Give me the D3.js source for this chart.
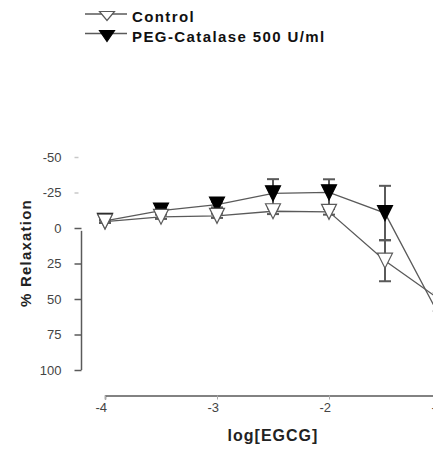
<!DOCTYPE html>
<html>
<head>
<meta charset="utf-8">
<script src="https://d3js.org/d3.v7.min.js"></script>
<style>
    body { margin: 0; background: #fff; }
    svg { display: block; font-family: "Liberation Sans", Arial, Helvetica, sans-serif; }
</style>
</head>
<body>
<svg width="433" height="453"></svg>
<script>
// log concentration of EGCG
var logConc = [-4, -3.5, -3, -2.5, -2, -1.5, -1];

// % relaxation (negative = contraction)
var controlMean = [-4.5, -7.9, -8.6, -11.8, -11.4, 23, 51];
var controlSem = [1, 1.5, 1.5, 2, 2, 14.5, 12];
var pegMean = [-5, -12.3, -16.5, -24.4, -25.1, -10.5, 64];
var pegSem = [1, 1.5, 2, 10, 9.2, 19.2, 10];

var seriesNames = ['Control', 'PEG-Catalase 500 U/ml'];
var yTicks = [-50, -25, 0, 25, 50, 75, 100];
var xTicks = [-4, -3, -2, -1];

var svg = d3.select('svg'),
    width = +svg.attr('width'),
    height = +svg.attr('height');

var grey = '#5a5a5a';

//Set scales
var xScale = d3.scaleLinear()
    .domain([-4, -1])
    .range([105, 441]);

var yScale = d3.scaleLinear()
    .domain([-50, 100])
    .range([157, 370]);

var axisX = 81.5;
var axisY = 395.5;

// build the series rows
var makeRows = (mean, sem) => logConc.map((c, i) => ({x: c, y: mean[i], e: sem[i]}));
var series = [
    {name: seriesNames[1], rows: makeRows(pegMean, pegSem), fill: '#000'},
    {name: seriesNames[0], rows: makeRows(controlMean, controlSem), fill: '#fff'}
];

//Y axis (the line only covers 0..100, upper ticks are faint in the original)
var yAxis = d3.axisLeft(yScale)
    .tickValues(yTicks)
    .tickSize(7)
    .tickPadding(13)
    .tickFormat(d => String(d));

var gy = svg.append('g')
    .attr('transform', `translate(${axisX},0)`)
    .call(yAxis);

gy.select('.domain').remove();
gy.append('line')
    .attr('x1', 0).attr('x2', 0)
    .attr('y1', yScale(2)).attr('y2', yScale(100))
    .attr('stroke', grey)
    .attr('stroke-width', 1.5);
gy.selectAll('.tick line')
    .attr('stroke', d => d < 0 ? '#c8c8c8' : grey)
    .attr('stroke-width', 1.5)
    .attr('x1', d => d < 0 ? -3 : 0);
gy.selectAll('.tick text')
    .attr('fill', '#444')
    .attr('font-size', 13)
    .attr('dy', '0.34em');

//X axis
var xAxis = d3.axisBottom(xScale)
    .tickValues(xTicks)
    .tickSize(4)
    .tickPadding(3)
    .tickFormat(d => String(d));

var gx = svg.append('g')
    .attr('transform', `translate(0,${axisY})`)
    .call(xAxis);

gx.select('.domain')
    .attr('stroke', grey)
    .attr('stroke-width', 1.5);
gx.selectAll('.tick line')
    .attr('stroke', '#aaa');
gx.selectAll('.tick text')
    .attr('fill', '#444')
    .attr('font-size', 13)
    .attr('text-anchor', 'end')
    .attr('dx', 1.5);

//Axis titles
svg.append('text')
    .attr('x', 273)
    .attr('y', 441)
    .attr('text-anchor', 'middle')
    .attr('font-size', 16)
    .attr('font-weight', 'bold')
    .attr('letter-spacing', 1)
    .attr('fill', '#222')
    .text('log[EGCG]');

svg.append('text')
    .attr('transform', 'translate(31,253) rotate(-90)')
    .attr('text-anchor', 'middle')
    .attr('font-size', 15)
    .attr('font-weight', 'bold')
    .attr('letter-spacing', 1.2)
    .attr('fill', '#222')
    .text('% Relaxation');

//Lines
var lineGenerator = d3.line()
    .x(d => xScale(d.x))
    .y(d => yScale(d.y));

series.forEach(s => {
    svg.append('path')
        .attr('d', lineGenerator(s.rows))
        .attr('fill', 'none')
        .attr('stroke', grey)
        .attr('stroke-width', 1.3);
});

// down triangle, box centred on the point
var triangle = (w, h) => `M${-w / 2},${-h / 2}L${w / 2},${-h / 2}L0,${h / 2}Z`;

//Error bars and markers
series.forEach(s => {
    var g = svg.append('g');
    var eb = g.selectAll('.err')
        .data(s.rows)
        .enter().append('g')
        .attr('stroke', grey)
        .attr('stroke-width', 2);
    eb.append('line')
        .attr('x1', d => xScale(d.x)).attr('x2', d => xScale(d.x))
        .attr('y1', d => yScale(d.y - d.e)).attr('y2', d => yScale(d.y + d.e));
    eb.append('line')
        .attr('x1', d => xScale(d.x) - 6).attr('x2', d => xScale(d.x) + 6)
        .attr('y1', d => yScale(d.y - d.e)).attr('y2', d => yScale(d.y - d.e));
    eb.append('line')
        .attr('x1', d => xScale(d.x) - 6).attr('x2', d => xScale(d.x) + 6)
        .attr('y1', d => yScale(d.y + d.e)).attr('y2', d => yScale(d.y + d.e));

    g.selectAll('.mark')
        .data(s.rows)
        .enter().append('path')
        .attr('d', triangle(15, 15))
        .attr('transform', d => `translate(${xScale(d.x)},${yScale(d.y)})`)
        .attr('fill', s.fill)
        .attr('stroke', s.fill === '#000' ? '#000' : grey)
        .attr('stroke-width', 1.2);
});

//Legend
var legend = svg.append('g');
var legendRows = [
    {name: seriesNames[0], fill: '#fff', ly: 14, ty: 16, h: 9},
    {name: seriesNames[1], fill: '#000', ly: 33.5, ty: 36, h: 11}
];
legendRows.forEach(r => {
    legend.append('line')
        .attr('x1', 85).attr('x2', 127)
        .attr('y1', r.ly).attr('y2', r.ly)
        .attr('stroke', grey)
        .attr('stroke-width', 1.5);
    legend.append('path')
        .attr('d', triangle(15, r.h))
        .attr('transform', `translate(107,${r.ty})`)
        .attr('fill', r.fill)
        .attr('stroke', r.fill === '#000' ? '#000' : grey)
        .attr('stroke-width', 1.2);
    legend.append('text')
        .attr('x', 132)
        .attr('y', r.ty + 5.5)
        .attr('font-size', 15)
        .attr('font-weight', 'bold')
        .attr('letter-spacing', 1.4)
        .attr('fill', '#111')
        .text(r.name);
});
</script>
</body>
</html>
